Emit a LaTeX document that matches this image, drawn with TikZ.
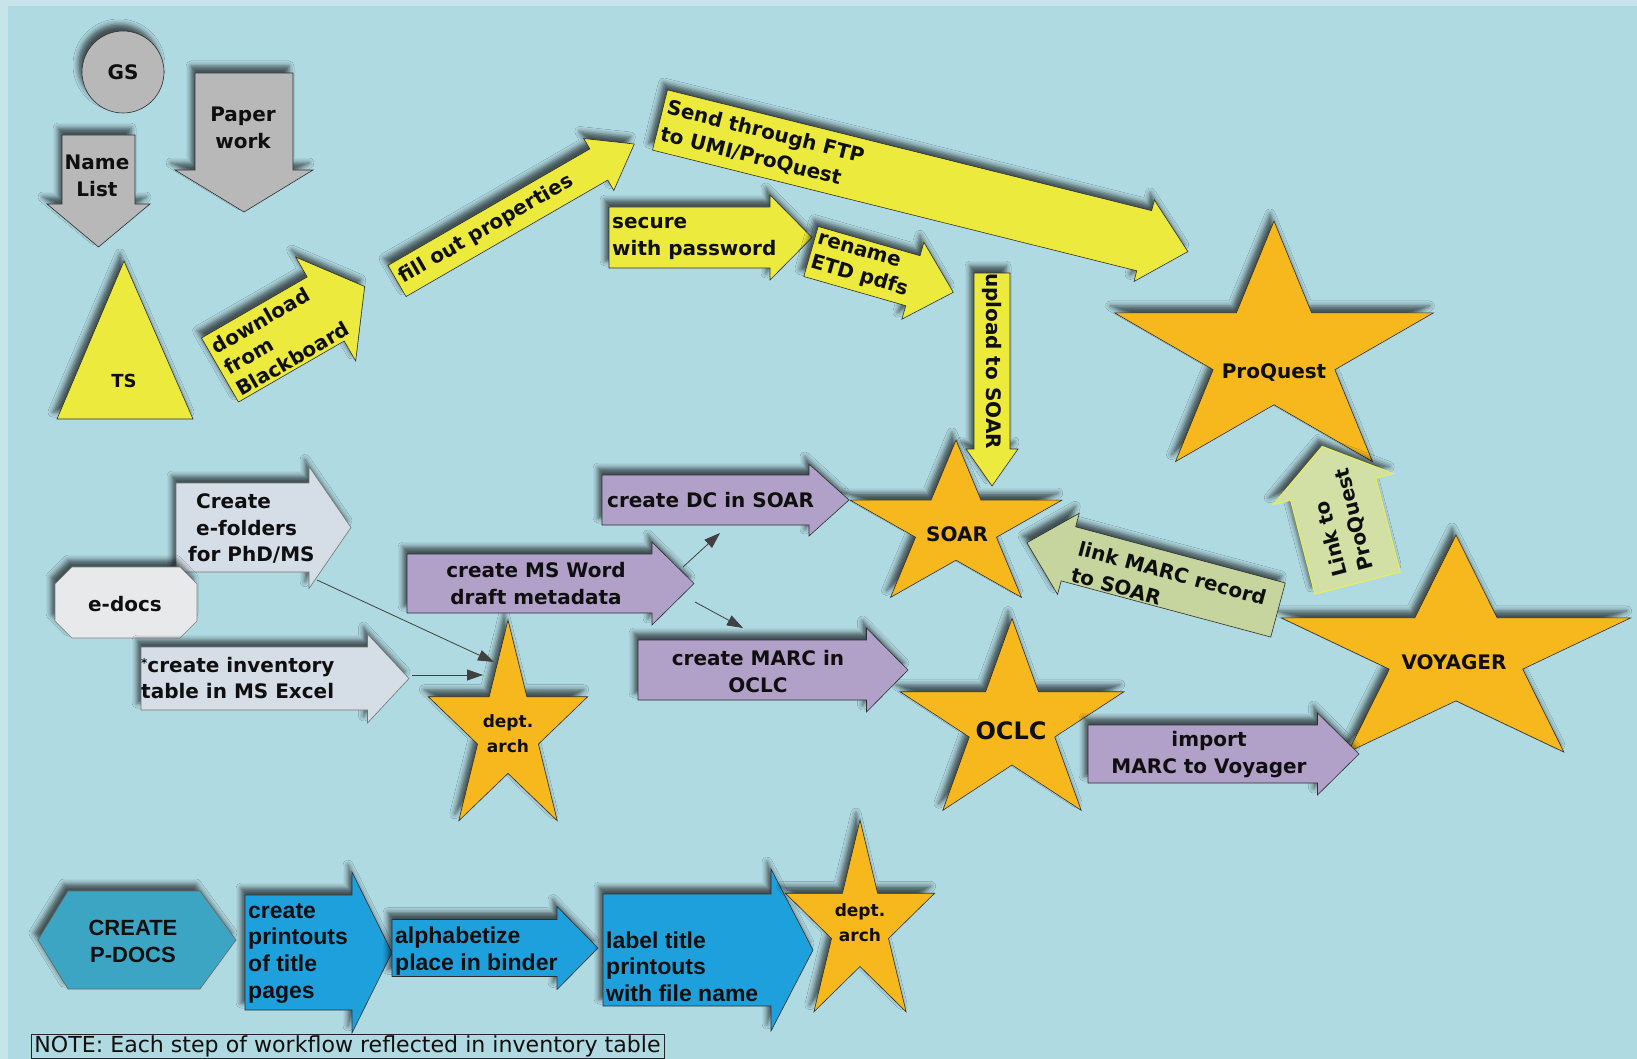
\documentclass[tikz,border=0pt]{standalone}
\usepackage{fontspec}
\setmainfont{DejaVu Sans}
\newfontfamily\libsans{Liberation Sans}
\usetikzlibrary{arrows.meta,shadows.blur}
\definecolor{cbg}{RGB}{176,218,226}
\definecolor{cbord}{RGB}{198,228,233}
\definecolor{cgray}{RGB}{184,184,184}
\definecolor{cyel}{RGB}{237,234,62}
\definecolor{cstar}{RGB}{246,184,28}
\definecolor{cpurp}{RGB}{177,160,200}
\definecolor{cpale}{RGB}{213,221,230}
\definecolor{cedoc}{RGB}{232,233,235}
\definecolor{cgreen}{RGB}{198,213,158}
\definecolor{cgreentwo}{RGB}{210,223,165}
\definecolor{cgline}{RGB}{232,236,100}
\definecolor{cteal}{RGB}{60,165,196}
\definecolor{cblue}{RGB}{30,160,220}
\definecolor{cline}{RGB}{45,45,45}
\definecolor{ctext}{RGB}{15,15,15}

% block arrow along local x: style, length, shaft half width, head half width, head length
\newcommand\arrowpath[5]{\path[#1] (0,-#3) -- ({#2-#5},-#3) -- ({#2-#5},-#4) -- (#2,0) -- ({#2-#5},#4) -- ({#2-#5},#3) -- (0,#3) -- cycle;}
% five-point star: style, cx, cy, outer radius, xscale
\newcommand\starpath[5]{\begin{scope}[shift={(#2,#3)},xscale=#5]
\pgfmathsetmacro\rin{0.382*#4}
\path[#1] (-90:#4) -- (-54:\rin) -- (-18:#4) -- (18:\rin) -- (54:#4) -- (90:\rin) -- (126:#4) -- (162:\rin) -- (198:#4) -- (234:\rin) -- cycle;
\end{scope}}

\tikzset{
  shad/.style={blur shadow={shadow xshift=-4pt,shadow yshift=7pt,shadow blur radius=5pt,shadow opacity=62}},
  sbase/.style={draw=cline,line width=0.6pt,shad},
  lbl/.style={font=\fontsize{20}{27}\selectfont\bfseries,inner sep=0pt,text=ctext},
  blbl/.style={font=\libsans\fontsize{23}{26.7}\selectfont\bfseries,inner sep=0pt,text=ctext},
  conn/.style={draw=black!75,line width=0.8pt,-{Triangle[length=16pt,width=11pt]}},
}

\begin{document}
\begin{tikzpicture}[x=1pt,y=-1pt]
\useasboundingbox (0,0) rectangle (1637,1059);
\fill[cbord] (0,0) rectangle (1637,1059);
\fill[cbg] (8,6) rectangle (1637,1059);

% ---------- top left ----------
\node[circle,sbase,fill=cgray,minimum size=82pt,lbl] (gs) at (123,72) {GS};

\begin{scope}[shift={(98.5,135)},rotate=-90]
  \arrowpath{sbase,fill=cgray}{112}{36.5}{51.5}{43}
\end{scope}
\node[lbl,align=center] (namelist) at (97,176) {Name\\List};

\begin{scope}[shift={(244,73)},rotate=-90]
  \arrowpath{sbase,fill=cgray}{139}{49}{69}{42}
\end{scope}
\node[lbl,align=center] (paper) at (243,128) {Paper\\work};

\path[sbase,fill=cyel] (124,261) -- (193,419) -- (57,419) -- cycle;
\node[lbl,font=\fontsize{18}{22}\selectfont\bfseries] (ts) at (124,381) {TS};

\begin{scope}[shift={(220,370)},rotate=30]
  \arrowpath{sbase,fill=cyel}{167}{37}{60}{45}
  \node[lbl,font=\fontsize{20}{24.5}\selectfont\bfseries,transform shape,anchor=west,align=left] (dl) at (5,2) {download\\from\\Blackboard};
\end{scope}

\begin{scope}[shift={(397,281)},rotate=30]
  \arrowpath{sbase,fill=cyel}{274}{18}{30}{41}
  \node[lbl,transform shape,anchor=west] (fillout) at (4,0) {fill out properties};
\end{scope}

\begin{scope}[shift={(660,120)},rotate=-14]
  \arrowpath{sbase,fill=cyel}{544}{31}{42}{45}
  \node[lbl,transform shape,anchor=west,align=left] (ftp) at (4,0) {Send through FTP\\to UMI/ProQuest};
\end{scope}

\begin{scope}[shift={(609,237.5)}]
  \arrowpath{sbase,fill=cyel}{203}{30.5}{42.5}{42}
\end{scope}
\node[lbl,anchor=west,align=left] (secure) at (612,238) {secure\\with password};

\begin{scope}[shift={(811,251.5)},rotate=-16]
  \arrowpath{sbase,fill=cyel}{148}{26}{40}{42}
  \node[lbl,font=\fontsize{20}{25}\selectfont\bfseries,transform shape,anchor=west,align=left] (rename) at (3,0) {rename\\ETD pdfs};
\end{scope}

% ---------- stars ----------
\starpath{sbase,fill=cstar}{1274}{354}{133}{1.26}
\node[lbl] (proquest) at (1274,373) {ProQuest};

\starpath{sbase,fill=cstar}{956}{527}{87}{1.28}
\node[lbl] (soar) at (957,534) {SOAR};

\starpath{sbase,fill=cstar}{1012}{724.5}{106}{1.11}
\node[lbl,font=\fontsize{24}{28}\selectfont\bfseries] (oclc) at (1011,731) {OCLC};

\starpath{sbase,fill=cstar}{1456}{655}{120}{1.53}
\node[lbl] (voyager) at (1454,662) {VOYAGER};

\starpath{sbase,fill=cstar}{508}{731}{111}{0.755}
\node[lbl,font=\fontsize{17}{25}\selectfont\bfseries,align=center] (deptone) at (508,734) {dept.\\arch};

\begin{scope}[shift={(992,273)},rotate=-90]
  \arrowpath{sbase,fill=cyel}{213}{18}{26}{37}
  \node[lbl,transform shape] (upload) at (88,0) {upload to SOAR};
\end{scope}

% ---------- green arrows ----------
\begin{scope}[shift={(1357.5,583)},rotate=104.5]
  \arrowpath{draw=cgline,line width=1.2pt,fill=cgreentwo,shad}{141}{44}{62}{44}
  \node[lbl,transform shape,anchor=west,align=left] (linkpq) at (10,0) {Link to\\ProQuest};
\end{scope}

\begin{scope}[shift={(1278,610)},rotate=165]
  \arrowpath{sbase,fill=cgreen}{260}{28}{42}{43}
\end{scope}
\node[lbl,rotate=-15,anchor=west,align=left] (linkmarc) at (1075,561) {link MARC record\\to SOAR};

% ---------- purple arrows ----------
\begin{scope}[shift={(602,500)}]
  \arrowpath{sbase,fill=cpurp}{247}{25}{36}{40}
\end{scope}
\node[lbl,anchor=west] (dc) at (607,500) {create DC in SOAR};

\begin{scope}[shift={(407,583.5)}]
  \arrowpath{sbase,fill=cpurp}{287}{29.5}{41.5}{42}
\end{scope}
\node[lbl,align=center] (msword) at (536,584) {create MS Word\\draft metadata};

\begin{scope}[shift={(638,670)}]
  \arrowpath{sbase,fill=cpurp}{270}{30}{42}{41.5}
\end{scope}
\node[lbl,align=center] (marc) at (758,672) {create MARC in\\OCLC};

\begin{scope}[shift={(1088,754)}]
  \arrowpath{sbase,fill=cpurp}{271}{29}{41}{41.5}
\end{scope}
\node[lbl,align=center] (import) at (1209,755) {import\\MARC to Voyager};

% ---------- e-docs group ----------
\begin{scope}[shift={(176,527.5)}]
  \arrowpath{draw=black!55,line width=0.6pt,fill=cpale,shad}{175}{44.5}{61}{42}
\end{scope}
\node[lbl,font=\fontsize{20}{26.5}\selectfont\bfseries,anchor=west,align=left] (efold) at (188,529) {\hspace*{8pt}Create\\\hspace*{8pt}e-folders\\for PhD/MS};

\path[draw=black!50,line width=0.6pt,fill=cedoc,shad] (72,567) -- (180,567) -- (197,584) -- (197,621) -- (180,638) -- (72,638) -- (55,621) -- (55,584) -- cycle;
\node[lbl] (edocs) at (125,604) {e-docs};

\begin{scope}[shift={(141,678.5)}]
  \arrowpath{draw=black!55,line width=0.6pt,fill=cpale,shad}{268}{31.5}{44.5}{41.5}
\end{scope}
\node[lbl,font=\fontsize{20}{26.5}\selectfont\bfseries,anchor=west,align=left] (inv) at (141,678) {\raisebox{5pt}{\fontsize{12}{12}\selectfont *}create inventory\\table in MS Excel};

% ---------- thin connectors ----------
\coordinate (aS) at (317,580);
\coordinate (aE) at (494,662);
\coordinate (bS) at (412,675);
\coordinate (bE) at (483,675);
\coordinate (cS) at (683,567);
\coordinate (cE) at (720,533);
\coordinate (dS) at (695,602);
\coordinate (dE) at (743,628);
\draw[conn] (aS) -- (aE);
\draw[conn] (bS) -- (bE);
\draw[conn] (cS) -- (cE);
\draw[conn] (dS) -- (dE);

% ---------- bottom row ----------
\path[draw=black!60,line width=0.6pt,fill=cteal,shad] (38,940) -- (68,891) -- (200,891) -- (236,940) -- (200,989) -- (68,989) -- cycle;
\node[blbl,font=\libsans\fontsize{22}{27}\selectfont\bfseries,align=center] (pdocs) at (133,941) {CREATE\\P-DOCS};

\begin{scope}[shift={(245,952.5)}]
  \arrowpath{sbase,fill=cblue}{147}{57.5}{80.5}{40}
\end{scope}
\node[blbl,anchor=west,align=left] (printouts) at (248,953) {create\\printouts\\of title\\pages};

\begin{scope}[shift={(392,948)}]
  \arrowpath{sbase,fill=cblue}{206}{28.5}{41.5}{41}
\end{scope}
\node[blbl,anchor=west,align=left] (alpha) at (395,951) {alphabetize\\place in binder};

\begin{scope}[shift={(603,950)}]
  \arrowpath{sbase,fill=cblue}{210}{56}{81}{42}
\end{scope}
\node[blbl,anchor=west,align=left] (labeltitle) at (606,966.7) {label title\\printouts\\with file name};

\starpath{sbase,fill=cstar}{860}{926}{106}{0.74}
\node[lbl,font=\fontsize{17}{25}\selectfont\bfseries,align=center] (depttwo) at (860,922.5) {dept.\\arch};

\draw[draw=black!85,line width=0.9pt,fill=cbg] (31,1034) rectangle (664,1058.5);
\node[inner sep=0pt,text=ctext] (note) at (347.5,1046.5) {\resizebox{626pt}{!}{\fontsize{20}{20}\selectfont NOTE: Each step of workflow reflected in inventory table}};
\end{tikzpicture}
\end{document}
